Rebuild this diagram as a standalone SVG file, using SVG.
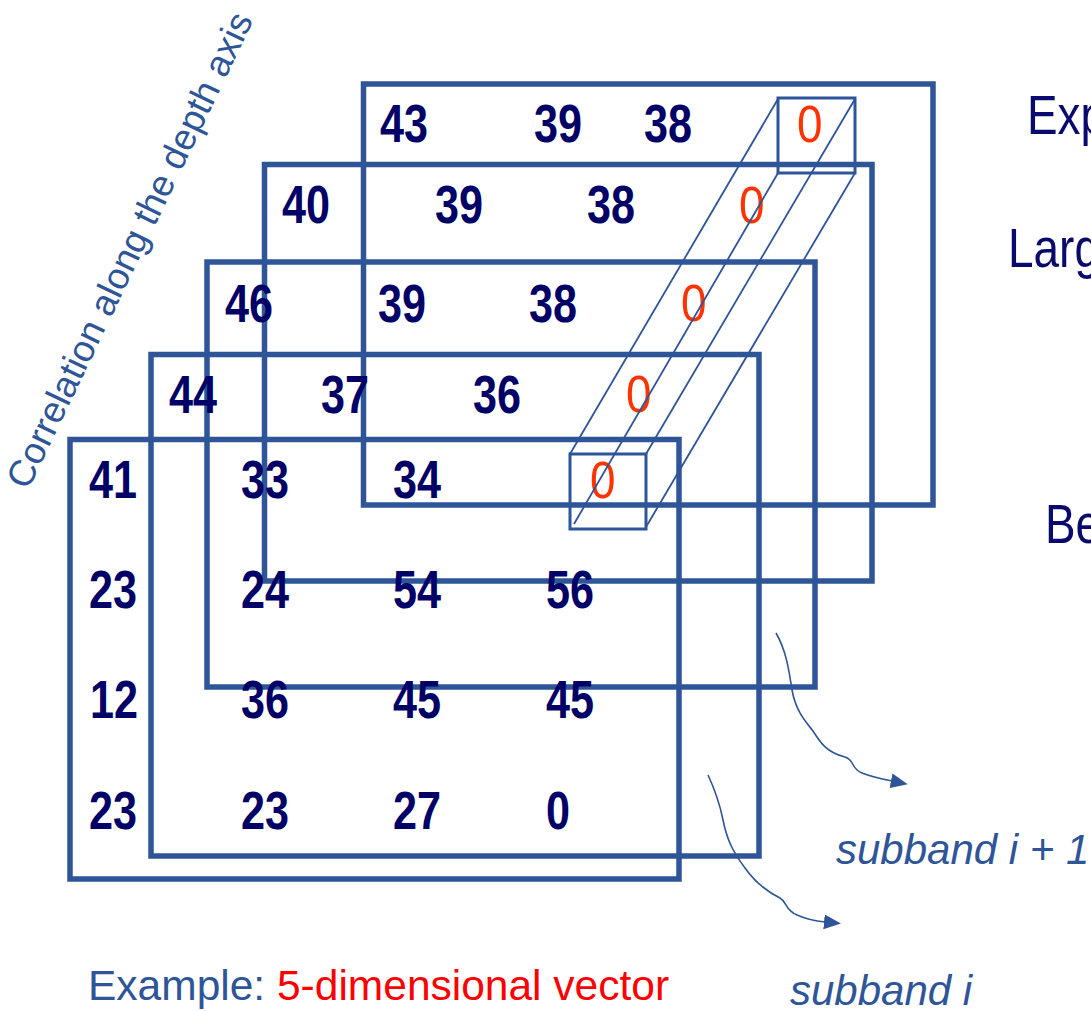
<svg xmlns="http://www.w3.org/2000/svg" width="1091" height="1011" viewBox="0 0 1091 1011">
<defs>
<style>
.frame{fill:none;stroke:#2E5597;stroke-width:5.5}
.num{font-family:"Liberation Sans",Arial,sans-serif;font-weight:bold;font-size:53px;fill:#000066}
.zero{font-family:"Liberation Sans",Arial,sans-serif;font-size:52px;fill:#FF3300}
.vbox{fill:none;stroke:#2E5597;stroke-width:3}
.diag{fill:none;stroke:#2E5597;stroke-width:1.8}
.conn{fill:none;stroke:#2E5597;stroke-width:1.6}
.lbl{font-family:"Liberation Sans",Arial,sans-serif;font-style:italic;font-size:42px;fill:#2E5597}
.side{font-family:"Liberation Sans",Arial,sans-serif;font-size:56px;fill:#0A0A6E}
</style>
<marker id="ah" markerUnits="userSpaceOnUse" markerWidth="17" markerHeight="15" viewBox="0 0 17 15" refX="1" refY="7.5" orient="auto">
<path d="M0,0 L17,7.5 L0,15 z" fill="#2E5597"/>
</marker>
</defs>
<rect width="1091" height="1011" fill="#FFFFFF"/>

<g id="frame-1">
<rect class="frame" x="363.5" y="84" width="569.5" height="421"/>
<text class="num" x="380" y="142" textLength="48" lengthAdjust="spacingAndGlyphs">43</text>
<text class="num" x="534" y="142" textLength="48" lengthAdjust="spacingAndGlyphs">39</text>
<text class="num" x="644" y="142" textLength="48" lengthAdjust="spacingAndGlyphs">38</text>
<text class="zero" x="797" y="142" textLength="25.5" lengthAdjust="spacingAndGlyphs">0</text>
</g>
<g id="frame-2">
<rect class="frame" x="264.5" y="164.5" width="607.5" height="416.5"/>
<text class="num" x="282" y="223" textLength="48" lengthAdjust="spacingAndGlyphs">40</text>
<text class="num" x="435" y="223" textLength="48" lengthAdjust="spacingAndGlyphs">39</text>
<text class="num" x="587" y="223" textLength="48" lengthAdjust="spacingAndGlyphs">38</text>
<text class="zero" x="739" y="223" textLength="25.5" lengthAdjust="spacingAndGlyphs">0</text>
</g>
<g id="frame-3">
<rect class="frame" x="207" y="262" width="608" height="425"/>
<text class="num" x="225" y="322" textLength="48" lengthAdjust="spacingAndGlyphs">46</text>
<text class="num" x="378" y="322" textLength="48" lengthAdjust="spacingAndGlyphs">39</text>
<text class="num" x="529" y="322" textLength="48" lengthAdjust="spacingAndGlyphs">38</text>
<text class="zero" x="681" y="321" textLength="25.5" lengthAdjust="spacingAndGlyphs">0</text>
</g>
<g id="frame-4">
<rect class="frame" x="151" y="354.5" width="608" height="501.5"/>
<text class="num" x="169" y="413" textLength="48" lengthAdjust="spacingAndGlyphs">44</text>
<text class="num" x="321" y="413" textLength="48" lengthAdjust="spacingAndGlyphs">37</text>
<text class="num" x="473" y="413" textLength="48" lengthAdjust="spacingAndGlyphs">36</text>
<text class="zero" x="626" y="412" textLength="25.5" lengthAdjust="spacingAndGlyphs">0</text>
</g>
<g id="frame-5">
<rect class="frame" x="70" y="439.5" width="609" height="439.5"/>
<text class="num" x="89" y="498" textLength="48" lengthAdjust="spacingAndGlyphs">41</text>
<text class="num" x="241" y="498" textLength="48" lengthAdjust="spacingAndGlyphs">33</text>
<text class="num" x="393" y="498" textLength="48" lengthAdjust="spacingAndGlyphs">34</text>
<text class="zero" x="590" y="498" textLength="25.5" lengthAdjust="spacingAndGlyphs">0</text>
<text class="num" x="89" y="608" textLength="48" lengthAdjust="spacingAndGlyphs">23</text>
<text class="num" x="241" y="608" textLength="48" lengthAdjust="spacingAndGlyphs">24</text>
<text class="num" x="393" y="608" textLength="48" lengthAdjust="spacingAndGlyphs">54</text>
<text class="num" x="546" y="608" textLength="48" lengthAdjust="spacingAndGlyphs">56</text>
<text class="num" x="90" y="718" textLength="48" lengthAdjust="spacingAndGlyphs">12</text>
<text class="num" x="241" y="718" textLength="48" lengthAdjust="spacingAndGlyphs">36</text>
<text class="num" x="393" y="718" textLength="48" lengthAdjust="spacingAndGlyphs">45</text>
<text class="num" x="546" y="718" textLength="48" lengthAdjust="spacingAndGlyphs">45</text>
<text class="num" x="89" y="829" textLength="48" lengthAdjust="spacingAndGlyphs">23</text>
<text class="num" x="241" y="829" textLength="48" lengthAdjust="spacingAndGlyphs">23</text>
<text class="num" x="393" y="829" textLength="48" lengthAdjust="spacingAndGlyphs">27</text>
<text class="num" x="546" y="829" textLength="24" lengthAdjust="spacingAndGlyphs">0</text>
</g>

<g id="vector">
<rect class="vbox" x="778" y="98" width="77" height="75"/>
<rect class="vbox" x="570" y="454" width="76" height="75"/>
<line class="diag" x1="778" y1="99" x2="570" y2="454"/>
<line class="diag" x1="855" y1="99" x2="646" y2="454"/>
<line class="diag" x1="778" y1="173" x2="574" y2="524"/>
<line class="diag" x1="855" y1="173" x2="646" y2="527"/>
</g>

<g id="connectors">
<path class="conn" marker-end="url(#ah)" d="M776,633 C786,650 789,670 792,690 C796,712 806,722 813,731 C820,742 826,752 845,757 C855,760 850,768 862,773 C872,777 882,779 892,781"/>
<path class="conn" marker-end="url(#ah)" d="M708,775 C716,792 720,805 723,820 C727,840 733,852 745,868 C757,885 770,893 780,898 C787,902 785,910 797,915 C806,919 815,921 825,922"/>
</g>

<g id="labels">
<text class="lbl" x="836" y="864">subband i + 1</text>
<text class="lbl" x="790" y="1005">subband i</text>
<text x="88" y="1000" font-family="Liberation Sans, Arial, sans-serif" font-size="42.5" fill="#2E5597">Example: <tspan fill="#FF0000">5-dimensional vector</tspan></text>
<text transform="translate(28,491) rotate(-64.4)" font-family="Liberation Sans, Arial, sans-serif" font-size="37" fill="#2E5597">Correlation along the depth axis</text>
<text class="side" x="1027" y="134" textLength="79" lengthAdjust="spacingAndGlyphs">Exp</text>
<text class="side" x="1008" y="267" textLength="92" lengthAdjust="spacingAndGlyphs">Larg</text>
<text class="side" x="1045" y="543" textLength="56" lengthAdjust="spacingAndGlyphs">Be</text>
</g>
</svg>
